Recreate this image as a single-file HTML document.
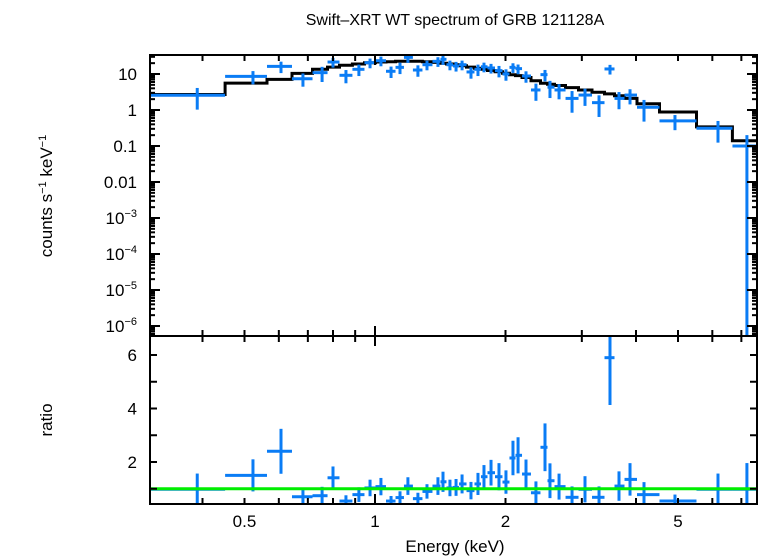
<!DOCTYPE html>
<html><head><meta charset="utf-8">
<style>
html,body{margin:0;padding:0;background:#fff;}
svg{display:block;font-family:"Liberation Sans",Arial,sans-serif;}
</style></head>
<body>
<svg id="chart" width="758" height="556" viewBox="0 0 758 556" xmlns="http://www.w3.org/2000/svg">
<text x="455" y="25" font-size="16" text-anchor="middle">Swift–XRT WT spectrum of GRB 121128A</text>
<text transform="translate(52,196) rotate(-90)" font-size="17" text-anchor="middle">counts s<tspan font-size="11" dy="-6">−1</tspan><tspan dy="6"> keV</tspan><tspan font-size="11" dy="-6">−1</tspan></text>
<text transform="translate(52,420) rotate(-90)" font-size="17" text-anchor="middle">ratio</text>
<text x="455" y="552" font-size="17" text-anchor="middle">Energy (keV)</text>
<g id="g"></g>
</svg>
<script>
const energies=[0.389,0.523,0.607,0.682,0.755,0.800,0.857,0.918,0.974,1.032,1.089,1.142,1.191,1.256,1.318,1.397,1.435,1.489,1.538,1.588,1.665,1.728,1.784,1.852,1.932,2.005,2.081,2.138,2.230,2.351,2.467,2.533,2.658,2.848,3.051,3.287,3.484,3.655,3.875,4.174,4.920,6.183,7.21];
const fluxValues=[2.56,8.6,16.3,7.4,10.9,21.5,9.2,13.5,20.6,23.4,11.9,15.3,29,12.9,18.1,22.5,25.6,18.1,16.7,18.1,11.4,13.5,15.9,14.7,12.4,10,15.3,14.1,8.8,3.6,9.6,4.3,3.6,2.1,2.6,1.6,13.8,2.1,2.6,1.19,0.50,0.31,0.1];
const fluxErrFrac=[0.6,0.4,0.35,0.4,0.45,0.3,0.4,0.35,0.3,0.3,0.35,0.35,0.3,0.35,0.3,0.3,0.3,0.3,0.3,0.3,0.35,0.35,0.3,0.3,0.35,0.35,0.3,0.3,0.35,0.5,0.35,0.5,0.45,0.6,0.5,0.6,0.3,0.5,0.45,0.6,0.45,0.6,1.0];
const ratioValues=[0.98,1.50,2.40,0.70,0.74,1.41,0.54,0.78,1.03,1.08,0.54,0.67,1.10,0.63,0.90,1.10,1.26,1.03,1.05,1.18,0.93,1.18,1.45,1.60,1.45,1.25,2.15,2.25,1.55,0.85,2.55,1.30,1.08,0.68,0.98,0.68,5.9,1.10,1.35,0.78,0.54,0.98,0.98];
const modelValues=[2.7,5.6,7.1,10.4,13.5,15.5,17.5,19,20.5,21.5,22,22.5,22.5,22.5,22,21,20,19,18,17,15.5,14.5,13.5,12.5,11.5,10.5,9.5,9,8,6.5,5.5,5.2,4.8,4.2,3.6,3.1,2.8,2.5,2.1,1.5,0.88,0.34,0.14];
const xTicks=[0.5,1,2,5];
const xTickLabels=["0.5","1","2","5"];
const yTopTicks=[10,1,0.1,0.01,1e-3,1e-4,1e-5,1e-6];
const yTopLabels=["10","1","0.1","0.01","10|−3","10|−4","10|−5","10|−6"];
const yRatioTicks=[2,4,6];

const NS="http://www.w3.org/2000/svg";
const g=document.getElementById('g');
const L=150,R=757,T1=55,B1=336,T2=336,B2=504;
const xS=e=>375+433.5*Math.log10(e);
const yTop=v=>110-36*Math.log10(v);
const yRat=r=>462-26.75*(r-2);
const Emin=Math.pow(10,(L-375)/433.5),Emax=Math.pow(10,(R-375)/433.5);
function el(t,a){const e=document.createElementNS(NS,t);for(const k in a)e.setAttribute(k,a[k]);g.appendChild(e);return e;}
function ln(x1,y1,x2,y2,c,w){return el('line',{x1,y1,x2,y2,stroke:c,'stroke-width':w});}

const edges=[Emin];
for(let i=0;i<energies.length-1;i++)edges.push(Math.sqrt(energies[i]*energies[i+1]));
edges.push(Emax);

let d='';
modelValues.forEach((m,i)=>{const y=yTop(m);d+=(i?'L':'M')+xS(edges[i]).toFixed(1)+','+y.toFixed(1)+'L'+xS(edges[i+1]).toFixed(1)+','+y.toFixed(1);});
const mp=el('path',{d,fill:'none',stroke:'#000','stroke-width':3});



const blue='#0a7cf5';
energies.forEach((e,i)=>{
  const x1=xS(edges[i]),x2=xS(edges[i+1]),x=xS(e);
  const v=fluxValues[i],f=fluxErrFrac[i];
  const y=yTop(v);
  const yHi=yTop(v*(1+f));
  const yLo=f>=1?B1:Math.min(B1,yTop(v*(1-f)));
  const gp=el('g',{});
  
  
  gp.appendChild(ln(x1,y,x2,y,blue,3));
  gp.appendChild(ln(x,Math.max(T1,yHi),x,yLo,blue,3));
  const r=ratioValues[i],re=Math.max(0.12,r*(f>=1?1:f));
  const ry=yRat(r);
  const gr=el('g',{});
  
  
  gr.appendChild(ln(x1,ry,x2,ry,blue,3));
  gr.appendChild(ln(x,Math.max(T2,yRat(r+re)),x,Math.min(B2,yRat(r-re)),blue,3));
});

const ul=ln(L,yRat(1),R,yRat(1),'#00ee00',3);



[[T1,B1],[T2,B2]].forEach(([t,b],k)=>{
  const r=el('rect',{x:L,y:t,width:R-L,height:b-t,fill:'none',stroke:'#000','stroke-width':2});
  
  
  for(let e=0.4;e<=7.01;e+=(e<0.95?0.1:1)){
    const ee=Math.round(e*10)/10;const x=xS(ee);const maj=(ee===1);
    const len=maj?10:6;
    ln(x,t,x,t+len,'#000',2);ln(x,b,x,b-len,'#000',2);
  }
});
for(let p=-7;p<=1;p++){for(let m=1;m<10;m++){const v=m*Math.pow(10,p);const y=yTop(v);if(y<T1||y>B1)continue;const len=m===1?10:5;ln(L,y,L+len,y,'#000',2);ln(R,y,R-len,y,'#000',2);}}
yTopTicks.forEach((v,i)=>{
  const t=el('text',{x:137,y:yTop(v)+6,'font-size':17,'text-anchor':'end'});
  
  
  const s=yTopLabels[i];
  if(s.includes('|')){const [b,ex]=s.split('|');t.textContent=b;const ts=document.createElementNS(NS,'tspan');ts.setAttribute('font-size','11');ts.setAttribute('dy','-7');ts.textContent=ex;t.appendChild(ts);}
  else t.textContent=s;
});
for(let r=1;r<=6;r++){const y=yRat(r);ln(L,y,L+7,y,'#000',2);ln(R,y,R-7,y,'#000',2);}
yRatioTicks.forEach(v=>{
  const t=el('text',{x:137,y:yRat(v)+6,'font-size':17,'text-anchor':'end'});
  
  
  t.textContent=String(v);
});
xTicks.forEach((v,i)=>{
  const t=el('text',{x:xS(v),y:527,'font-size':17,'text-anchor':'middle'});
  
  
  t.textContent=xTickLabels[i];
});
</script>
</body></html>
